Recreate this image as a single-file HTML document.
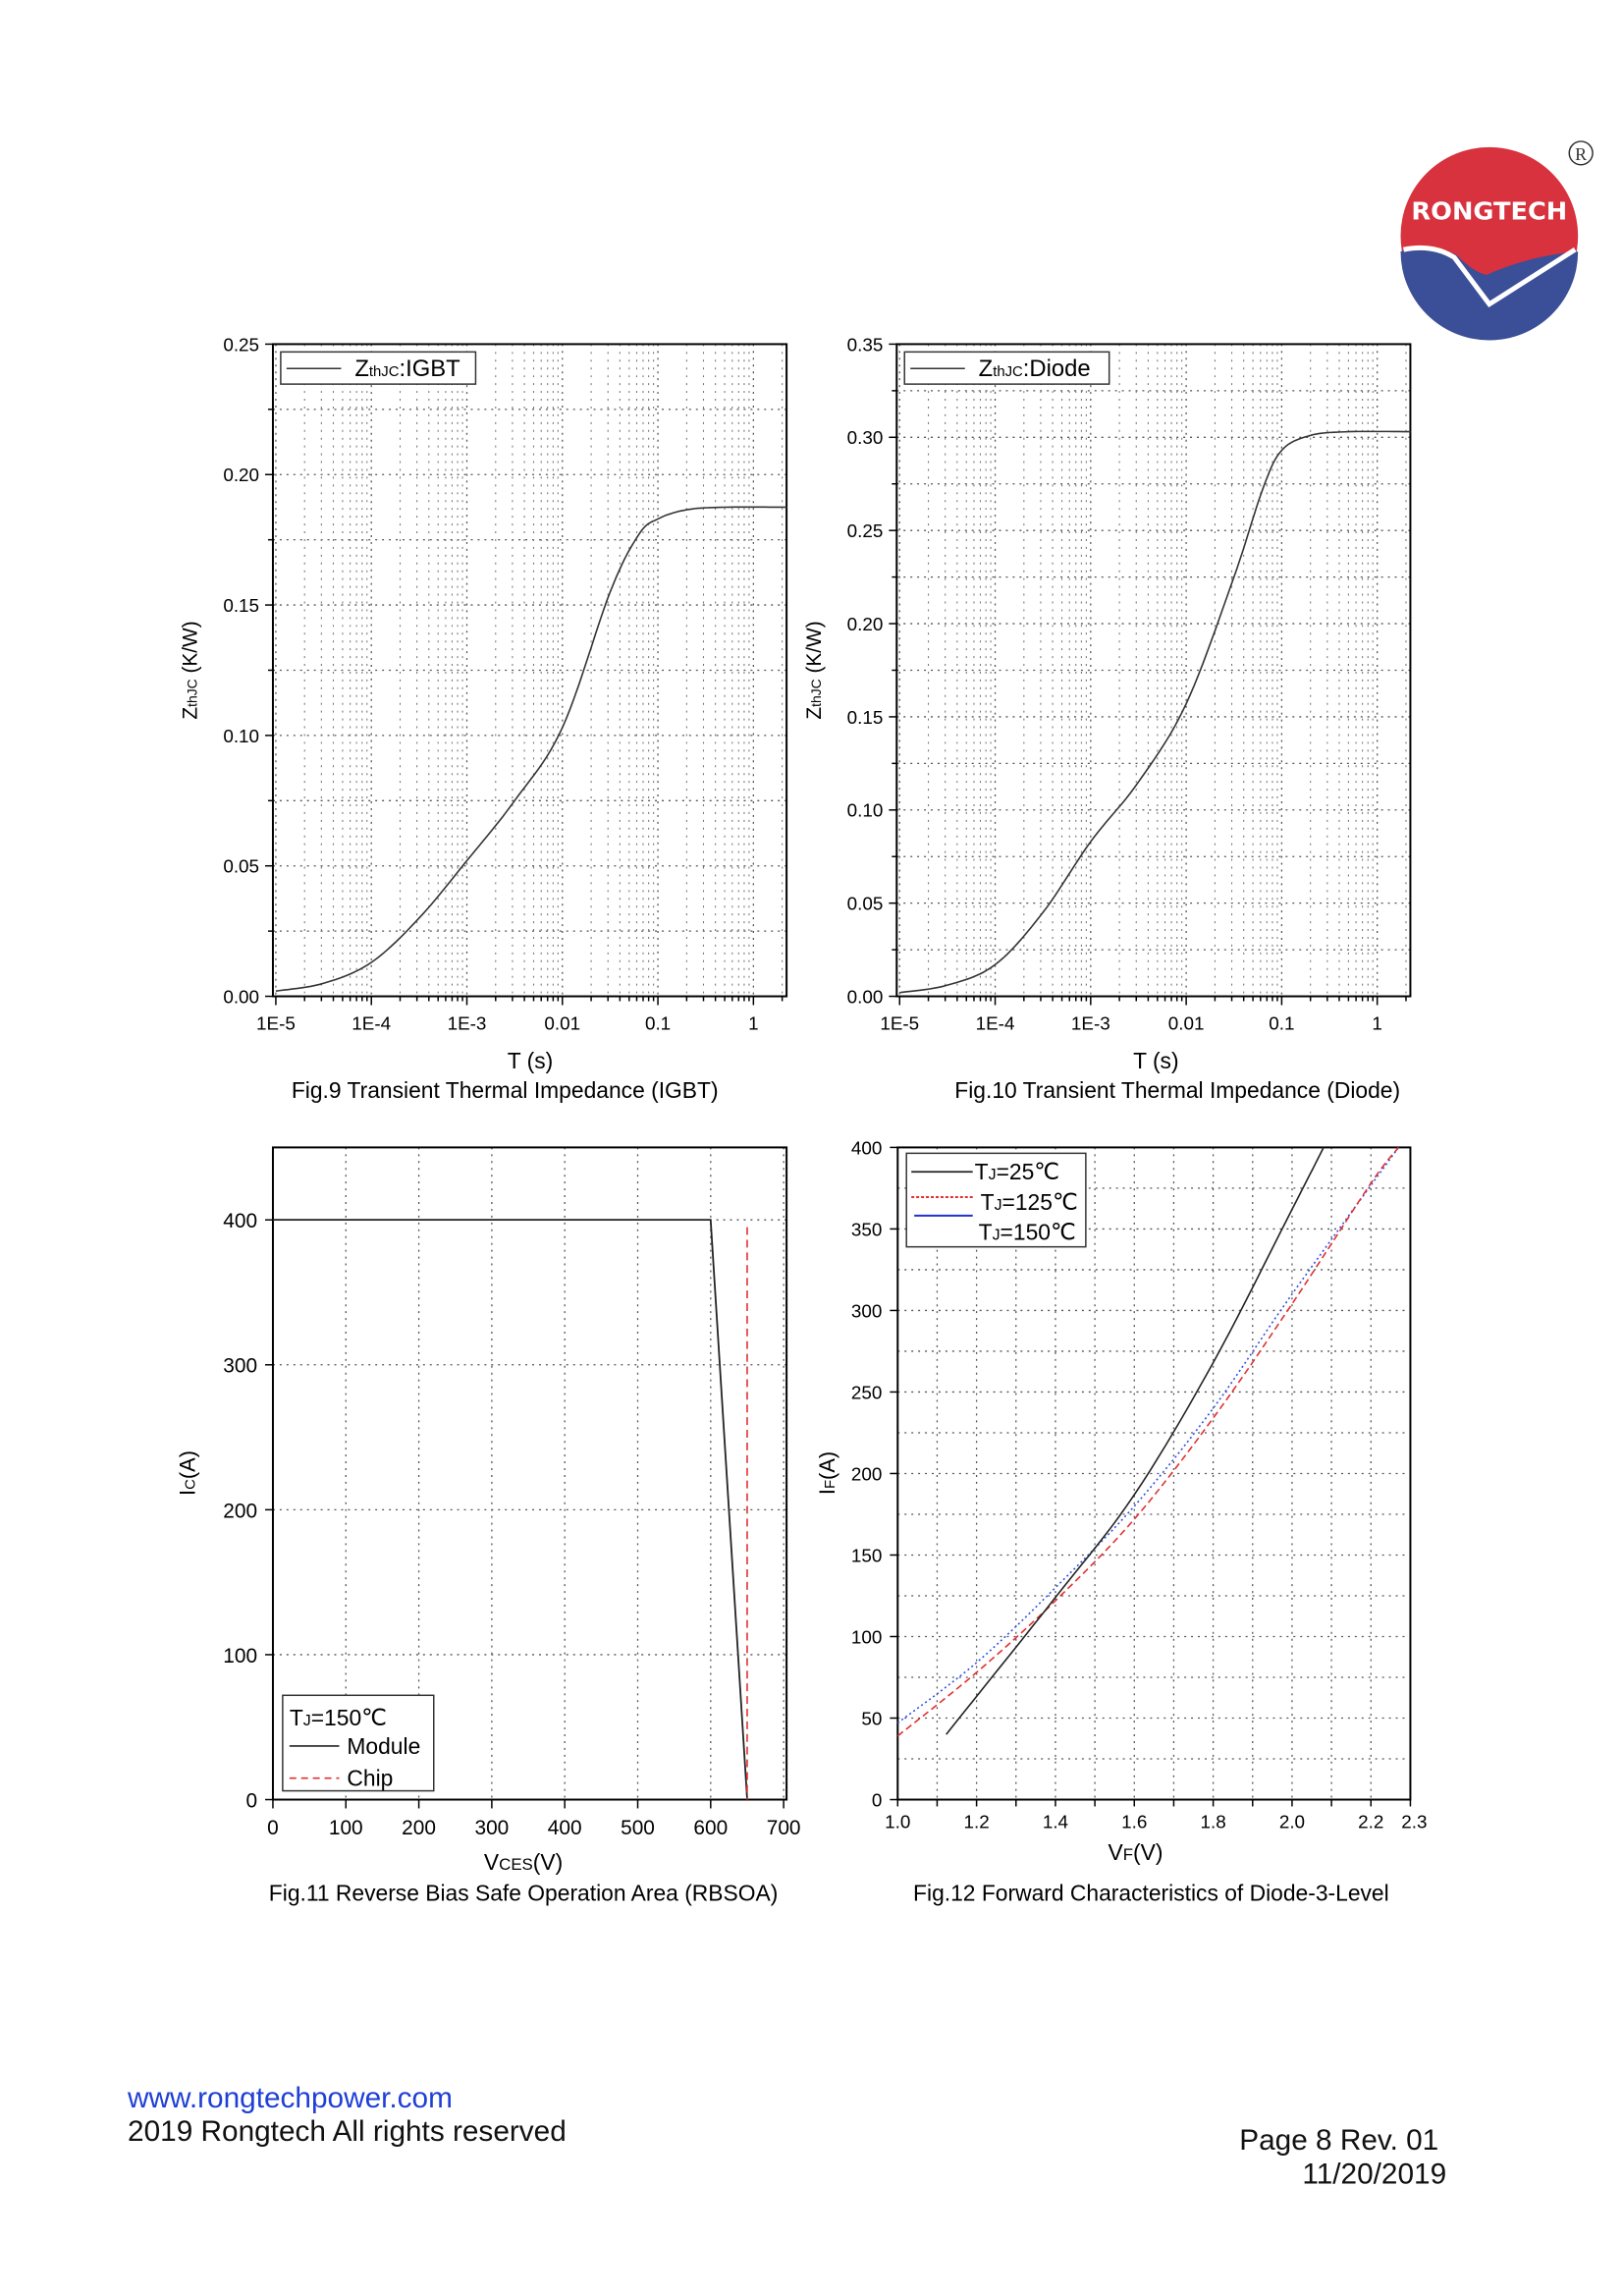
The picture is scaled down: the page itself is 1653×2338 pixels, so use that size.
<!DOCTYPE html>
<html><head><meta charset="utf-8"><style>
html,body{margin:0;padding:0;background:#fff;}
body{width:1653px;height:2338px;position:relative;overflow:hidden;font-family:"Liberation Sans",sans-serif;}
</style></head><body>
<svg id="s" width="1653" height="2338" xmlns="http://www.w3.org/2000/svg" style="position:absolute;left:0;top:0" font-family="Liberation Sans, sans-serif">
<g transform="scale(0.9927)">
<g>
<circle cx="1528" cy="242" r="91" fill="#d7323e"/>
<path d="M1437,258 Q1470,248 1495,262 Q1510,278 1525,282 Q1570,262 1619,258 A91,91 0 0 1 1437,258Z" fill="#3a4f97"/>
<path d="M1440,256 Q1470,250 1492,264 L1528,312 L1616,256" fill="none" stroke="#fff" stroke-width="5"/>
<text x="1528" y="225" font-size="25" font-weight="bold" fill="#fff" text-anchor="middle" font-family="DejaVu Sans, sans-serif" textLength="160" lengthAdjust="spacingAndGlyphs">RONGTECH</text>
<circle cx="1622" cy="157" r="12" fill="none" stroke="#333" stroke-width="1.5"/>
<text x="1622" y="164" font-size="18" fill="#333" text-anchor="middle" font-family="Liberation Serif, serif">R</text>
</g>
<g id="c"></g>
<text x="131" y="2162" font-size="30" fill="#1f3fd6">www.rongtechpower.com</text>
<text x="131" y="2196" font-size="30" fill="#111">2019 Rongtech All rights reserved</text>
<text x="1476" y="2205" font-size="30" fill="#111" text-anchor="end">Page 8 Rev. 01</text>
<text x="1484" y="2240" font-size="30" fill="#111" text-anchor="end">11/20/2019</text>
</g>
</svg>
<script>
var g=document.getElementById('c'),h='';
function L(x1,y1,x2,y2,st){h+='<line x1="'+x1+'" y1="'+y1+'" x2="'+x2+'" y2="'+y2+'" '+(st||'stroke="#000" stroke-width="1.5"')+'/>';}
function T(x,y,t,sz,anc,extra){h+='<text x="'+x+'" y="'+y+'" font-size="'+sz+'" text-anchor="'+(anc||'middle')+'" '+(extra||'')+'>'+t+'</text>';}
var GR='stroke="#555" stroke-width="1.3" stroke-dasharray="2,5"';
function path(pts,st){var d='';pts.forEach(function(p,i){d+=(i?'L':'M')+p[0].toFixed(1)+','+p[1].toFixed(1);});h+='<path d="'+d+'" fill="none" '+st+'/>';}
function interp(P,n){
 var out=[];for(var i=0;i<P.length-1;i++){var p0=P[Math.max(i-1,0)],p1=P[i],p2=P[i+1],p3=P[Math.min(i+2,P.length-1)];
 for(var k=0;k<n;k++){var t=k/n,t2=t*t,t3=t2*t;var f=function(a,b,c,d){return 0.5*((2*b)+(-a+c)*t+(2*a-5*b+4*c-d)*t2+(-a+3*b-3*c+d)*t3);};
 out.push([f(p0[0],p1[0],p2[0],p3[0]),f(p0[1],p1[1],p2[1],p3[1])]);}}out.push(P[P.length-1]);return out;}
function thermal(x0,x1,y0,y1,xlab0,ymax,ystep,lab,pts,cap,capx,tsx){
 var dec=98*(x1-x0)/527;
 var X=function(l){return xlab0+(l+5)*dec;},Y=function(v){return y1-(v/ymax)*(y1-y0);};
 for(var v=0;v<=ymax+1e-9;v+=ystep/2){L(x0,Y(v),x1,Y(v),GR);}
 for(var d=-6;d<=1;d++)for(var m=1;m<10;m++){var xx=X(d+Math.log10(m));if(xx>x0+2&&xx<x1-2)L(xx,y0,xx,y1,m==1?GR:'stroke="#777" stroke-width="1.1" stroke-dasharray="2,6"');}
 h+='<rect x="'+x0+'" y="'+y0+'" width="'+(x1-x0)+'" height="'+(y1-y0)+'" fill="none" stroke="#000" stroke-width="2"/>';
 for(var v=0;v<=ymax+1e-9;v+=ystep){L(x0-8,Y(v),x0,Y(v));T(x0-14,Y(v)+7,v.toFixed(2),19,'end');}
 for(var v=ystep/2;v<=ymax;v+=ystep)L(x0-5,Y(v),x0,Y(v));
 var labs=['1E-5','1E-4','1E-3','0.01','0.1','1'];
 for(var d=-5;d<=0;d++){L(X(d),y1,X(d),y1+9);T(X(d),y1+34,labs[d+5],19);for(var m=2;m<10;m++){var xx=X(d+Math.log10(m));if(xx<x1)L(xx,y1,xx,y1+5);}}
 T(tsx,y1+74,'T (s)',23);T(capx,y1+104,cap,23);
 h+='<text transform="translate('+(x0-78)+','+((y0+y1)/2)+') rotate(-90)" font-size="21" text-anchor="middle">Z<tspan font-size="14">thJC</tspan> (K/W)</text>';
 var P=pts.map(function(p){return [X(p[0]),Y(p[1])];});path(interp(P,12),'stroke="#333" stroke-width="1.6"');
 h+='<rect x="'+(x0+8)+'" y="'+(y0+8)+'" width="'+(lab[1])+'" height="33" fill="#fff" stroke="#333" stroke-width="1.5"/>';
 L(x0+14,y0+25,x0+70,y0+25,'stroke="#333" stroke-width="1.5"');
 h+='<text x="'+(x0+84)+'" y="'+(y0+33)+'" font-size="24">Z<tspan font-size="15">thJC</tspan>:'+lab[0]+'</text>';
}
thermal(280,807,353,1022,283,0.25,0.05,['IGBT',200],[[-5,.002],[-4.5,.005],[-4,.013],[-3.5,.03],[-3,.052],[-2.5,.075],[-2,.103],[-1.5,.155],[-1.2,.177],[-1,.183],[-0.7,.1865],[-0.3,.1875],[0.35,.1875]],'Fig.9 Transient Thermal Impedance (IGBT)',518,544);
thermal(920,1447,353,1022,923,0.35,0.05,['Diode',210],[[-5,.002],[-4.5,.006],[-4,.017],[-3.5,.045],[-3,.083],[-2.5,.115],[-2,.157],[-1.5,.225],[-1.2,.272],[-1,.293],[-0.7,.301],[-0.3,.303],[0.35,.303]],'Fig.10 Transient Thermal Impedance (Diode)',1208,1186);
(function(){var x0=280,x1=807,y0=1177,y1=1846;var X=function(v){return x0+v/700*(804-x0);},Y=function(v){return y1-v/450*(y1-y0);};
 for(var v=100;v<=400;v+=100)L(x0,Y(v),x1,Y(v),GR);for(var v=100;v<=700;v+=100)L(X(v),y0,X(v),y1,GR);
 h+='<rect x="'+x0+'" y="'+y0+'" width="'+(x1-x0)+'" height="'+(y1-y0)+'" fill="none" stroke="#000" stroke-width="2"/>';
 for(var v=0;v<=400;v+=100){L(x0-8,Y(v),x0,Y(v));T(x0-16,Y(v)+8,v,21,'end');}
 for(var v=0;v<=700;v+=100){L(X(v),y1,X(v),y1+9);T(X(v),y1+36,v,21);}
 h+='<text x="537" y="1918" font-size="23" text-anchor="middle">V<tspan font-size="17">CES</tspan>(V)</text>';T(537,1950,'Fig.11 Reverse Bias Safe Operation Area (RBSOA)',23);
 h+='<text transform="translate(200,1511) rotate(-90)" font-size="22" text-anchor="middle">I<tspan font-size="15">C</tspan>(A)</text>';
 path([[X(0),Y(400)],[X(600),Y(400)],[X(650),Y(0)]],'stroke="#222" stroke-width="1.8"');
 L(X(650),Y(395),X(650),Y(0),'stroke="#e03030" stroke-width="1.6" stroke-dasharray="8,5"');
 h+='<rect x="290" y="1739" width="155" height="98" fill="#fff" stroke="#333" stroke-width="1.5"/>';
 h+='<text x="297" y="1770" font-size="23">T<tspan font-size="16">J</tspan>=150℃</text>';
 L(297,1791,348,1791,'stroke="#222" stroke-width="1.6"');T(356,1799,'Module',23,'start');
 L(297,1824,348,1824,'stroke="#e03030" stroke-width="1.6" stroke-dasharray="7,5"');T(356,1832,'Chip',23,'start');
})();
(function(){var x0=921,x1=1447,y0=1177,y1=1846;var X=function(v){return x0+(v-1)/1.3*(x1-x0);},Y=function(v){return y1-v/400*(y1-y0);};
 for(var v=25;v<400;v+=25)L(x0,Y(v),x1,Y(v),GR);for(var v=1.1;v<2.3;v+=0.1)L(X(v),y0,X(v),y1,GR);
 h+='<rect x="'+x0+'" y="'+y0+'" width="'+(x1-x0)+'" height="'+(y1-y0)+'" fill="none" stroke="#000" stroke-width="2"/>';
 for(var v=0;v<=400;v+=50){L(x0-8,Y(v),x0,Y(v));T(x0-16,Y(v)+7,v,19,'end');}
 for(var v=1;v<=2.31;v+=0.1){L(X(v),y1,X(v),y1+7);}
 ['1.0','1.2','1.4','1.6','1.8','2.0','2.2'].forEach(function(s){T(X(+s),y1+29,s,19);});T(X(2.3)+4,y1+29,'2.3',19);
 h+='<text x="1165" y="1908" font-size="23" text-anchor="middle">V<tspan font-size="17">F</tspan>(V)</text>';T(1181,1950,'Fig.12 Forward Characteristics of Diode-3-Level',23);
 h+='<text transform="translate(856,1511) rotate(-90)" font-size="22" text-anchor="middle">I<tspan font-size="15">F</tspan>(A)</text>';
 var f=function(P,st){path(interp(P.map(function(p){return [X(p[0]),Y(p[1])];}),10),st);};
 f([[1.0,47],[1.2,84],[1.4,130],[1.6,180],[1.8,240],[2.0,310],[2.27,400]],'stroke="#3050e0" stroke-width="1.6" stroke-dasharray="2,3"');
 f([[1.0,39],[1.2,78],[1.4,122],[1.6,172],[1.8,234],[2.0,304],[2.2,378],[2.27,400]],'stroke="#e03030" stroke-width="1.6" stroke-dasharray="7,4"');
 f([[1.123,40],[1.4,124],[1.6,187],[1.8,268],[2.0,362],[2.08,400]],'stroke="#222" stroke-width="1.6"');
 h+='<rect x="930" y="1183" width="184" height="96" fill="#fff" stroke="#333" stroke-width="1.5"/>';
 L(935,1202,998,1202,'stroke="#222" stroke-width="1.8"');h+='<text x="1000" y="1210" font-size="23">T<tspan font-size="16">J</tspan>=25℃</text>';
 L(935,1228,998,1228,'stroke="#e03030" stroke-width="2" stroke-dasharray="3,2"');h+='<text x="1006" y="1241" font-size="23">T<tspan font-size="16">J</tspan>=125℃</text>';
 L(938,1247,998,1247,'stroke="#2030d0" stroke-width="2"');h+='<text x="1004" y="1272" font-size="23">T<tspan font-size="16">J</tspan>=150℃</text>';
})();
g.innerHTML=h;
</script>
</body></html>
